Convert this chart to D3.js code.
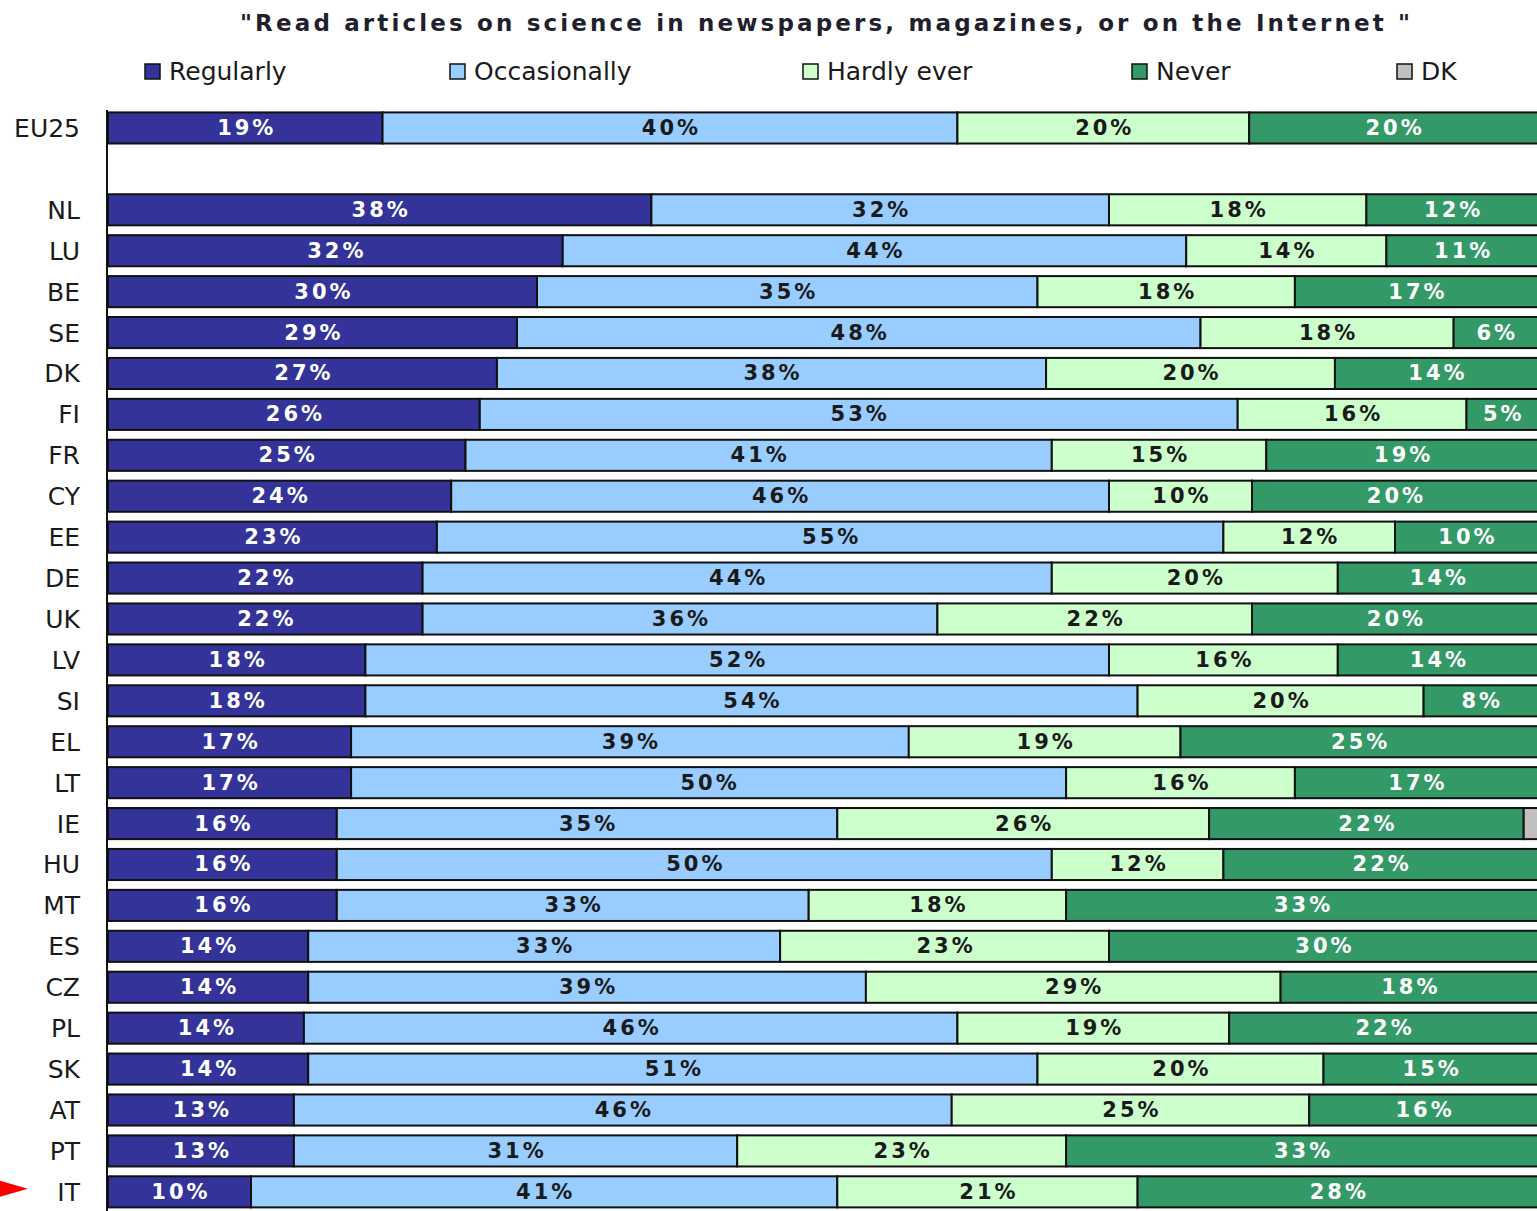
<!DOCTYPE html>
<html>
<head>
<meta charset="utf-8">
<script src="https://cdn.jsdelivr.net/npm/d3@7"></script>
<style>
    body { margin: 0; background: #fff; }
    svg { display: block; }
    .country { font-family: "DejaVu Sans", sans-serif; font-size: 25px; fill: #1a1a1a; }
    .legend-text { font-family: "DejaVu Sans", sans-serif; font-size: 25px; fill: #1a1a1a; }
    .bar-label { font-family: "DejaVu Sans", sans-serif; font-size: 21px; font-weight: bold; letter-spacing: 3px; }
</style>
</head>
<body>
<svg id="chart" width="1537" height="1211"></svg>
<script>
var countries = ['EU25', '', 'NL', 'LU', 'BE', 'SE', 'DK', 'FI', 'FR', 'CY', 'EE', 'DE', 'UK', 'LV',
    'SI', 'EL', 'LT', 'IE', 'HU', 'MT', 'ES', 'CZ', 'PL', 'SK', 'AT', 'PT', 'IT'];

// shares in % (labels show the rounded value)
var regularly    = [19.2, null, 38, 31.8, 30, 28.6, 27.2, 26, 25, 24, 23, 22, 22, 18, 18, 17, 17, 16, 16, 16, 14, 14, 13.7, 14, 13, 13, 10];
var occasionally = [40.2, null, 32, 43.6, 35, 47.8, 38.4, 53, 41, 46, 55, 44, 36, 52, 54, 39, 50, 35, 50, 33, 33, 39, 45.7, 51, 46, 31, 41];
var hardlyEver   = [20.4, null, 18, 14.0, 18, 17.7, 20.2, 16, 15, 10, 12, 20, 22, 16, 20, 19, 16, 26, 12, 18, 23, 29, 19.0, 20, 25, 23, 21];
var never        = [20.2, null, 12, 10.6, 17, 5.9, 14.2, 5, 19, 20, 10, 14, 20, 14, 8, 25, 17, 22, 22, 33, 30, 18, 21.6, 15, 16, 33, 28];
var dk           = [0, null, 0, 0, 0, 0, 0, 0, 0, 0, 0, 0, 0, 0, 0, 0, 0, 1, 0, 0, 0, 0, 0, 0, 0, 0, 0];

var seriesNames = ['Regularly', 'Occasionally', 'Hardly ever', 'Never', 'DK'];
var seriesColors = ['#333399', '#99ccff', '#ccffcc', '#339966', '#c0c0c0'];
var labelColors = ['#ffffff', '#1a1a1a', '#1a1a1a', '#ffffff', '#1a1a1a'];

var titleText = '"Read articles on science in newspapers, magazines, or on the Internet "';
var highlighted = 'IT';

var svg = d3.select('#chart');

// build one record per country with stacked segments
var rows = countries.map(function (c, i) {
    var vals = [regularly[i], occasionally[i], hardlyEver[i], never[i], dk[i]];
    var x0 = 0;
    var segs = [];
    if (c !== '') {
        vals.forEach(function (v, k) {
            segs.push({ key: k, x0: x0, x1: x0 + v, v: v });
            x0 += v;
        });
    }
    return { id: c === '' ? '_gap' : c, name: c, segs: segs };
});

var xScale = d3.scaleLinear()
    .domain([0, 100])
    .range([108, 1538]);

var yScale = d3.scaleBand()
    .domain(rows.map(d => d.id))
    .range([107.5, 1212.3])
    .paddingInner(0.24)
    .paddingOuter(0.12);

// title
svg.append("text")
    .attr("x", 825)
    .attr("y", 31)
    .attr("text-anchor", "middle")
    .attr("textLength", 1170)
    .attr("lengthAdjust", "spacing")
    .style("font-family", "'DejaVu Sans', sans-serif")
    .style("font-size", "23px")
    .style("font-weight", "bold")
    .style("fill", "#1f1f2e")
    .text(titleText);

// legend
var legendX = [145, 450, 803, 1132, 1397];
var legend = svg.append("g").attr("id", "legend");
var legendEntries = legend.selectAll(null)
    .data(seriesNames)
    .enter()
    .append("g")
    .attr("transform", (d, i) => `translate(${legendX[i]},64)`);
legendEntries.append("rect")
    .attr("width", 15)
    .attr("height", 15)
    .attr("fill", (d, i) => seriesColors[i])
    .attr("stroke", "#111")
    .attr("stroke-width", 1.5);
legendEntries.append("text")
    .classed("legend-text", true)
    .attr("x", 24)
    .attr("y", 16)
    .text(d => d);

// bars
var bars = svg.append("g")
    .selectAll("g")
    .data(rows.filter(d => d.segs.length))
    .enter()
    .append("g")
    .attr("transform", d => `translate(0,${yScale(d.id)})`);

bars.selectAll("rect")
    .data(d => d.segs.filter(s => s.v > 0))
    .enter()
    .append("rect")
    .attr("x", s => xScale(s.x0))
    .attr("y", 0)
    .attr("width", s => xScale(s.x1) - xScale(s.x0))
    .attr("height", yScale.bandwidth())
    .attr("fill", s => seriesColors[s.key])
    .attr("stroke", "#111")
    .attr("stroke-width", 2);

bars.selectAll("text")
    .data(d => d.segs.filter(s => s.v >= 3 && s.key < 4))
    .enter()
    .append("text")
    .classed("bar-label", true)
    .attr("x", s => (xScale(s.x0) + xScale(s.x1)) / 2 + 1.5)
    .attr("y", yScale.bandwidth() / 2 + 7)
    .attr("text-anchor", "middle")
    .style("fill", s => labelColors[s.key])
    .text(s => Math.round(s.v) + "%");

// category axis
var yAxis = d3.axisLeft(yScale)
    .tickSize(0)
    .tickPadding(0)
    .tickFormat(id => id === '_gap' ? '' : id);

svg.append("line")
    .attr("x1", 107)
    .attr("x2", 107)
    .attr("y1", 110)
    .attr("y2", 1211)
    .attr("stroke", "#111")
    .attr("stroke-width", 2);

svg.selectAll("text.country")
    .data(rows.filter(d => d.name !== ''))
    .enter()
    .append("text")
    .classed("country", true)
    .attr("x", 80)
    .attr("y", d => yScale(d.id) + yScale.bandwidth() / 2 + 9)
    .attr("text-anchor", "end")
    .text(d => yAxis.tickFormat()(d.id));

// red arrow pointing at the highlighted country
var ay = yScale(highlighted) + yScale.bandwidth() / 2 - 3;
svg.append("path")
    .attr("d", `M0,${ay - 8} L28,${ay} L0,${ay + 8} Z`)
    .attr("fill", "#ff0000");
</script>
</body>
</html>
